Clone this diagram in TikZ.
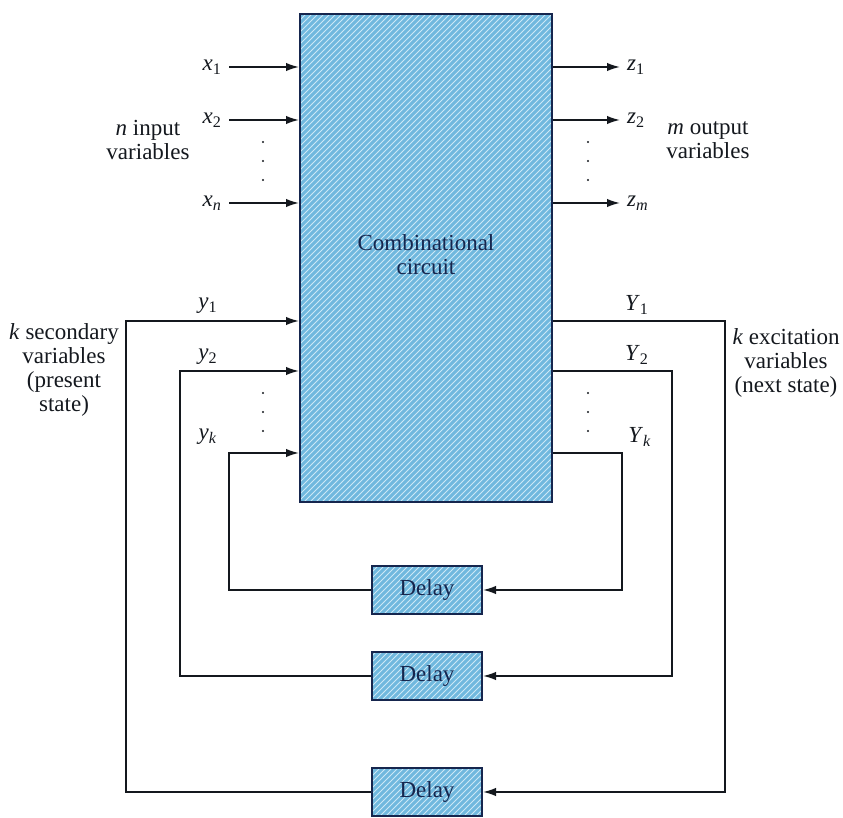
\documentclass[tikz,border=0pt]{standalone}
\usepackage{fontspec}
\setmainfont{Liberation Serif}
\usetikzlibrary{arrows.meta,positioning,patterns}
\definecolor{seqInk}{RGB}{20,24,30}
\definecolor{seqNavy}{RGB}{22,38,78}
\definecolor{seqBlue}{RGB}{112,184,222}
\definecolor{seqHatch}{RGB}{205,232,246}
\newcommand{\sv}[2]{\textit{#1}\textsubscript{#2}}

\begin{document}
\begin{tikzpicture}[x=0.5pt,y=-0.5pt,
      every node/.style={font=\fontsize{11.5}{12}\selectfont,text=seqInk},
      block/.style={preaction={fill=seqBlue},pattern=north east lines,pattern color=seqHatch,
        draw=seqNavy,line width=1pt,text=seqNavy,align=center},
      combbox/.style={block,minimum width=126pt,minimum height=244pt},
      delaybox/.style={block,minimum width=55pt,minimum height=24pt},
      arr/.style={-{Latex[length=6.5pt,width=4.2pt]},line width=0.8pt,draw=seqInk}
    ]
    \useasboundingbox (0,0) rectangle (843,818);
    \node[combbox] (comb) at (426,258) {};
    \node[text=seqNavy,align=center] (combtxt) at (426,255) {Combinational\\circuit};
    \node[delaybox] (d1) at (427,590) {Delay};
    \node[delaybox] (d2) at (427,676) {Delay};
    \node[delaybox] (d3) at (427,792) {Delay};
    % inputs and outputs
    \node[anchor=east] (x1) at (229,67)  {\sv{x}{1}};
    \node[anchor=east] (x2) at (229,120) {\sv{x}{2}};
    \node[anchor=east] (xn) at (229,203) {\sv{x}{\textit{n}}};
    \node[anchor=west] (z1) at (620,67)  {\sv{z}{1}};
    \node[anchor=west] (z2) at (620,120) {\sv{z}{2}};
    \node[anchor=west] (zm) at (620,203) {\sv{z}{\textit{m}}};
    \foreach \s in {x1,x2,xn} \draw[arr] (\s.east) -- (\s.east -| comb.west);
    \foreach \s in {z1,z2,zm} \draw[arr] (\s.west -| comb.east) -- (\s.west);
    \node[align=center] (nin) at (148,140) {\textit{n} input\\variables};
    \node[align=center] (mout) at (708,140) {\textit{m} output\\variables};
    % state variables
    \node (y1) at (208,306) {\sv{y}{1}};
    \node (y2) at (208,357) {\sv{y}{2}};
    \node (yk) at (208,437) {\sv{y}{\textit{k}}};
    \node (Y1) at (637,305) {\sv{Y}{1}};
    \node (Y2) at (637,355) {\sv{Y}{2}};
    \node (Yk) at (640,437) {\sv{Y}{\textit{k}}};
    \node[align=center] (ksec) at (64,370) {\textit{k} secondary\\variables\\(present\\state)};
    \node[align=center] (kexc) at (786,363) {\textit{k} excitation\\variables\\(next state)};
    % feedback loops
    \coordinate (r1) at (725,321);
    \coordinate (r2) at (672,371);
    \coordinate (rk) at (622,453);
    \coordinate (l1) at (126,321);
    \coordinate (l2) at (180,371);
    \coordinate (lk) at (229,453);
    \draw[arr] (comb.east |- r1) -- (r1) |- (d3.east);
    \draw[arr] (comb.east |- r2) -- (r2) |- (d2.east);
    \draw[arr] (comb.east |- rk) -- (rk) |- (d1.east);
    \draw[arr] (d3.west) -| (l1) -- (l1 -| comb.west);
    \draw[arr] (d2.west) -| (l2) -- (l2 -| comb.west);
    \draw[arr] (d1.west) -| (lk) -- (lk -| comb.west);
    % vertical dots
    \foreach \px in {263,588}{
      \foreach \py in {142,161,180,393,412,431}
        \fill[seqInk] (\px,\py) circle (0.6pt);
    }
  \end{tikzpicture}
\end{document}
